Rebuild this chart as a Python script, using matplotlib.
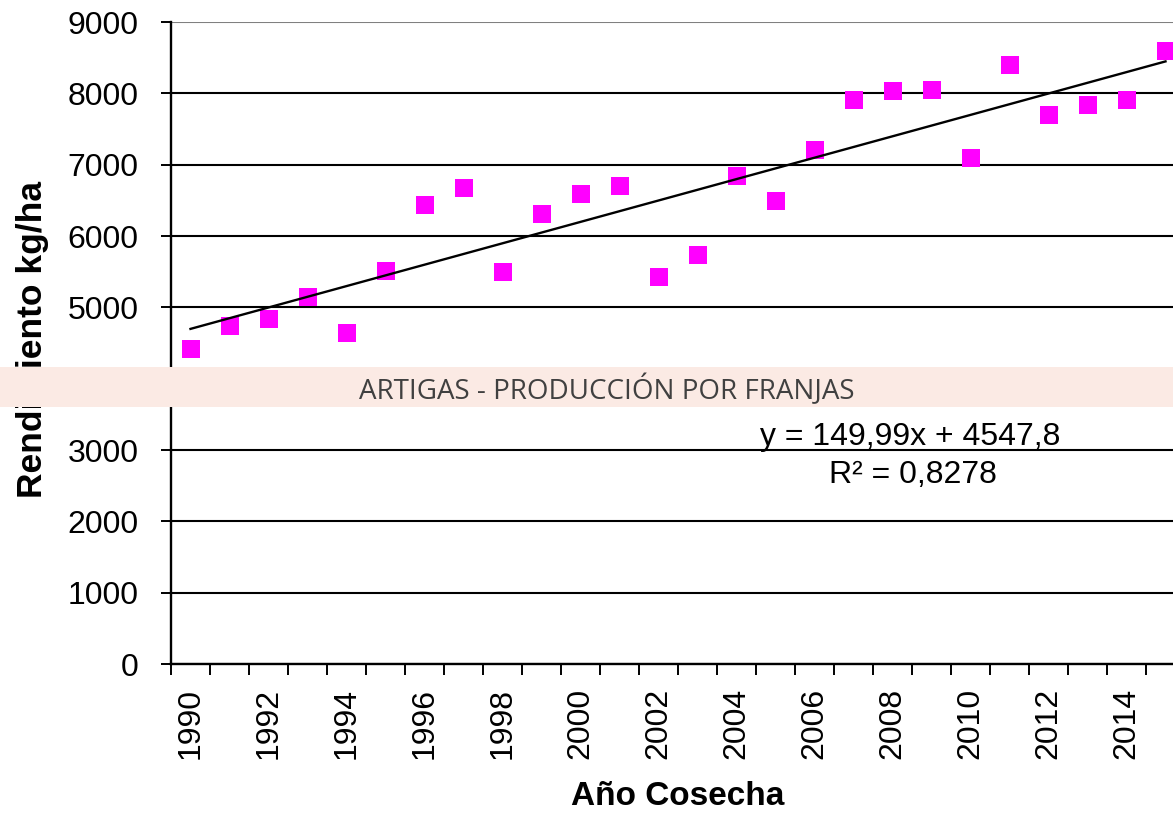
import matplotlib.pyplot as plt
import numpy as np
from matplotlib.patches import Rectangle

years = list(range(1990, 2016))
rendimiento = [4410, 4740, 4840, 5140, 4640, 5510, 6430, 6670, 5490, 6310,
               6590, 6700, 5430, 5740, 6840, 6490, 7200, 7900, 8030, 8050,
               7090, 8400, 7700, 7840, 7900, 8600]
# Excel linear trendline shown in the chart (x = 1..n)
slope, intercept = 149.99, 4547.8
r2_text = '0,8278'
eq_text = 'y = 149,99x + 4547,8'
yticks = [0, 1000, 2000, 3000, 4000, 5000, 6000, 7000, 8000, 9000]

plt.rcParams['font.family'] = ['Liberation Sans', 'DejaVu Sans']

W, H = 1173, 819
fig = plt.figure(figsize=(W / 100, H / 100), dpi=100)
ax = fig.add_axes([171 / W, (H - 664) / H, 1014 / W, 642 / H])

x = np.arange(len(years))
ax.plot(x, rendimiento, 's', color='#FF00FF', markersize=13.5, markeredgewidth=0, zorder=3)

xt = x + 1
ax.plot(x, slope * xt + intercept, color='black', lw=1.7, zorder=4)

ax.set_xlim(-0.5, len(years) - 0.5)
ax.set_ylim(0, 9000)
ax.set_yticks(yticks)
ax.set_yticklabels([str(v) for v in yticks])
ax.tick_params(axis='y', labelsize=23, length=7.2, width=1.4, pad=16)

ax.set_xticks(x[::2])
ax.set_xticklabels([str(y) for y in years[::2]], rotation=90)
ax.set_xticks(np.arange(-0.5, len(years), 1), minor=True)
ax.tick_params(axis='x', which='major', length=0, labelsize=23, pad=17)
ax.tick_params(axis='x', which='minor', length=8, width=1.4)

ax.yaxis.grid(True, color='black', lw=1.5)
ax.get_ygridlines()[-1].set_color('#808080')
ax.set_axisbelow(True)

for s in ['top', 'right']:
    ax.spines[s].set_visible(False)
ax.spines['left'].set_linewidth(1.7)
ax.spines['bottom'].set_linewidth(1.7)

ax.set_xlabel('Año Cosecha', fontsize=24, fontweight='bold')
ax.xaxis.set_label_coords(0.5, -0.183)
ax.set_ylabel('Rendimiento kg/ha', fontsize=25.5, fontweight='bold')
ax.yaxis.set_label_coords(-0.137, 0.505)
ax.yaxis.label.set_verticalalignment('center')

ax.text(0.729, 0.354, eq_text, transform=ax.transAxes, fontsize=23,
        ha='center', va='center')
ax.text(0.732, 0.294, 'R² = ' + r2_text, transform=ax.transAxes, fontsize=23,
        ha='center', va='center')

# banner strip over the chart
fig.patches.append(Rectangle((0, (H - 407) / H), 1, 40 / H, transform=fig.transFigure,
                             facecolor='#FBEAE4', edgecolor='none', zorder=10))
fig.text(607 / W, (H - 390) / H, 'ARTIGAS - PRODUCCIÓN POR FRANJAS', family='Open Sans',
         fontsize=20, color='#404040', ha='center', va='center', zorder=11)

fig.savefig('out.png', dpi=100)
